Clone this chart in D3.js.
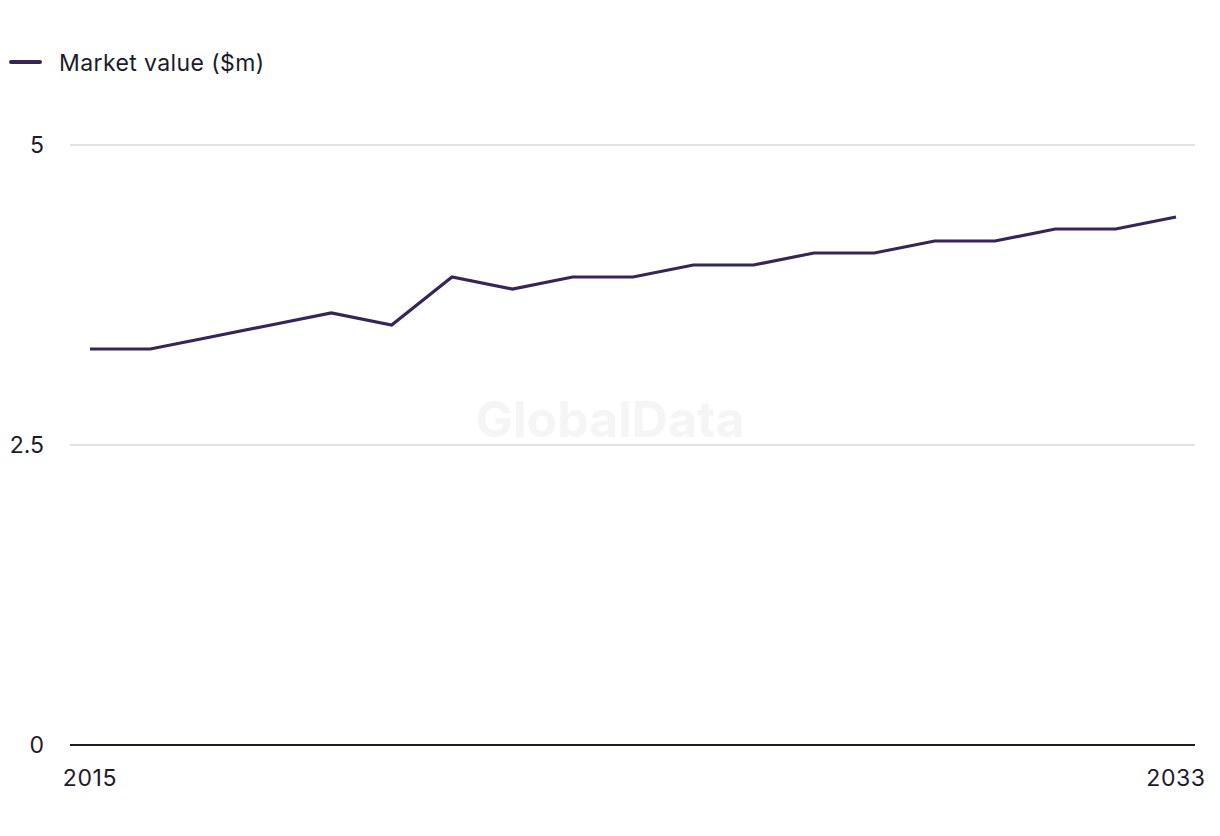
<!DOCTYPE html>
<html><head><meta charset="utf-8">
<script src="https://cdn.jsdelivr.net/npm/d3@7"></script>
<style>body{margin:0;background:#fff;}svg{display:block;font-family:Inter, "Liberation Sans", sans-serif;}</style>
</head><body>
<svg id="c" width="1220" height="836"></svg>
<script>
const years = [2015,2016,2017,2018,2019,2020,2021,2022,2023,2024,2025,2026,2027,2028,2029,2030,2031,2032,2033];
const marketValue = [3.3,3.3,3.4,3.5,3.6,3.5,3.9,3.8,3.9,3.9,4.0,4.0,4.1,4.1,4.2,4.2,4.3,4.3,4.4];
const yTicks = [0,2.5,5];
const yTickLabels = ["0","2.5","5"];
const xTickLabels = ["2015","2033"];
const seriesName = "Market value ($m)";

const svg = d3.select("#c");
const x = d3.scaleLinear().domain([2015,2033]).range([90,1176]);
const y = d3.scaleLinear().domain([0,5]).range([745,145]);
const color = "#36245a";
const textColor = "#1b1b2b";

// watermark
svg.append("text").attr("x",610).attr("y",437).attr("text-anchor","middle")
  .attr("font-size",50).attr("font-weight",700).attr("fill","#f5f5f5").text("GlobalData");

// gridlines
svg.append("g").selectAll("line").data(yTicks.filter(d=>d>0)).join("line")
  .attr("x1",70).attr("x2",1195).attr("y1",d=>y(d)).attr("y2",d=>y(d))
  .attr("stroke","#d9d9d9").attr("stroke-width",1.5);

// y labels
svg.append("g").selectAll("text").data(yTicks).join("text")
  .attr("x",44).attr("y",d=>y(d)+8).attr("text-anchor","end")
  .attr("font-size",23).attr("fill",textColor).text((d,i)=>yTickLabels[i]);

// baseline
svg.append("line").attr("x1",70).attr("x2",1195).attr("y1",y(0)).attr("y2",y(0))
  .attr("stroke",textColor).attr("stroke-width",2);

// x labels
svg.append("g").selectAll("text").data(xTickLabels).join("text")
  .attr("x",d=>x(+d)).attr("y",786).attr("text-anchor","middle")
  .attr("font-size",23).attr("letter-spacing",0.6).attr("fill",textColor).text(d=>d);

// line
const line = d3.line().x((d,i)=>x(years[i])).y(d=>y(d));
svg.append("path").datum(marketValue).attr("d",line)
  .attr("fill","none").attr("stroke",color).attr("stroke-width",3.2).attr("stroke-linejoin","miter");

// legend
svg.append("line").attr("x1",11).attr("x2",40).attr("y1",62).attr("y2",62)
  .attr("stroke",color).attr("stroke-width",4).attr("stroke-linecap","round");
svg.append("text").attr("x",59).attr("y",71).attr("font-size",23).attr("letter-spacing",0.4).attr("fill",textColor).text(seriesName);
</script>
</body></html>
